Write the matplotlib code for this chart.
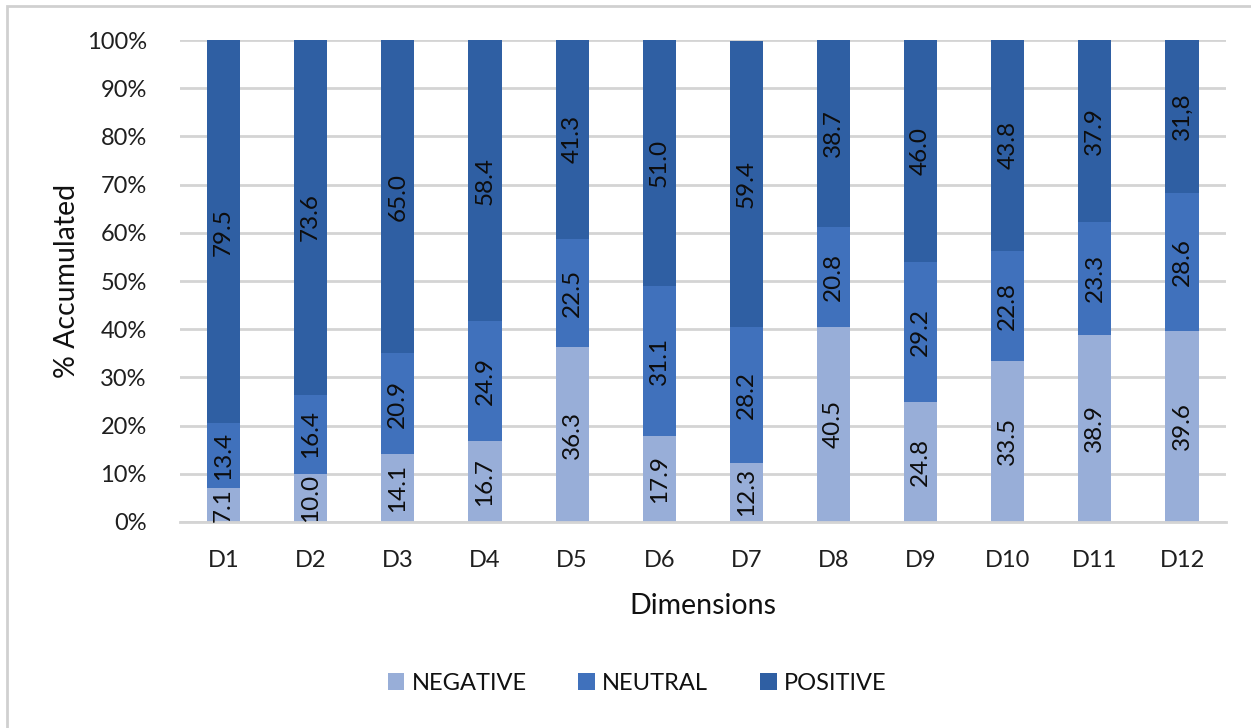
import numpy as np
import matplotlib.pyplot as plt
from matplotlib.patches import Rectangle
from matplotlib.ticker import PercentFormatter

plt.rcParams["font.family"] = ["Lato", "DejaVu Sans"]

dims = ["D1", "D2", "D3", "D4", "D5", "D6", "D7", "D8", "D9", "D10", "D11", "D12"]
negative = [7.1, 10.0, 14.1, 16.7, 36.3, 17.9, 12.3, 40.5, 24.8, 33.5, 38.9, 39.6]
neutral = [13.4, 16.4, 20.9, 24.9, 22.5, 31.1, 28.2, 20.8, 29.2, 22.8, 23.3, 28.6]
positive = [79.5, 73.6, 65.0, 58.4, 41.3, 51.0, 59.4, 38.7, 46.0, 43.8, 37.9, 31.8]
positive_txt = ["79.5", "73.6", "65.0", "58.4", "41.3", "51.0", "59.4", "38.7",
                "46.0", "43.8", "37.9", "31,8"]

c_neg = "#98aed8"
c_neu = "#4071bc"
c_pos = "#2f5fa3"

fig = plt.figure(figsize=(12.51, 7.28), dpi=100)
fig.patches.append(Rectangle((7 / 1251, -0.1), 1.2, 1 - 6 / 728 + 0.1,
                             transform=fig.transFigure, fill=False,
                             edgecolor="#d0d0d0", lw=2))
ax = fig.add_axes([0.1439, 0.283, 0.8358, 0.662])

x = np.arange(len(dims))
neg = np.array(negative)
neu = np.array(neutral)
pos = np.array(positive)
w = 0.38
b1 = ax.bar(x, neg, w, color=c_neg, label="NEGATIVE", zorder=2)
b2 = ax.bar(x, neu, w, bottom=neg, color=c_neu, label="NEUTRAL", zorder=2)
b3 = ax.bar(x, pos, w, bottom=neg + neu, color=c_pos, label="POSITIVE", zorder=2)

for bars, vals in [(b1, [f"{v:.1f}" for v in negative]),
                   (b2, [f"{v:.1f}" for v in neutral]),
                   (b3, positive_txt)]:
    txts = ax.bar_label(bars, labels=vals, label_type="center", rotation=90,
                        fontsize=17.5, color="#0d0d0d")
    for t in txts:
        t.set_clip_on(True)

ax.set_xlim(-0.5, len(dims) - 0.5)
ax.set_ylim(0, 100)
ax.set_yticks(np.arange(0, 101, 10))
ax.yaxis.set_major_formatter(PercentFormatter(decimals=0))
ax.set_xticks(x)
ax.set_xticklabels(dims)
ax.tick_params(axis="both", length=0, labelsize=17, colors="#1f1f1f")
ax.tick_params(axis="y", pad=24)
ax.tick_params(axis="x", pad=20)
ax.grid(axis="y", color="#d4d4d4", lw=2, zorder=0)
for s in ["top", "right", "left"]:
    ax.spines[s].set_visible(False)
ax.spines["bottom"].set_color("#d4d4d4")
ax.spines["bottom"].set_linewidth(2)

ax.set_xlabel("Dimensions", fontsize=20.5, color="#111111", labelpad=16)
ax.set_ylabel("% Accumulated", fontsize=20.5, color="#111111", labelpad=5)

fig.legend(loc="center", bbox_to_anchor=(637 / 1251, 1 - 683 / 728), ncol=3,
           frameon=False, fontsize=17, handlelength=0.7, handleheight=0.7,
           handletextpad=0.3, columnspacing=2.2, labelcolor="#111111")

fig.savefig("out.png", dpi=100)
